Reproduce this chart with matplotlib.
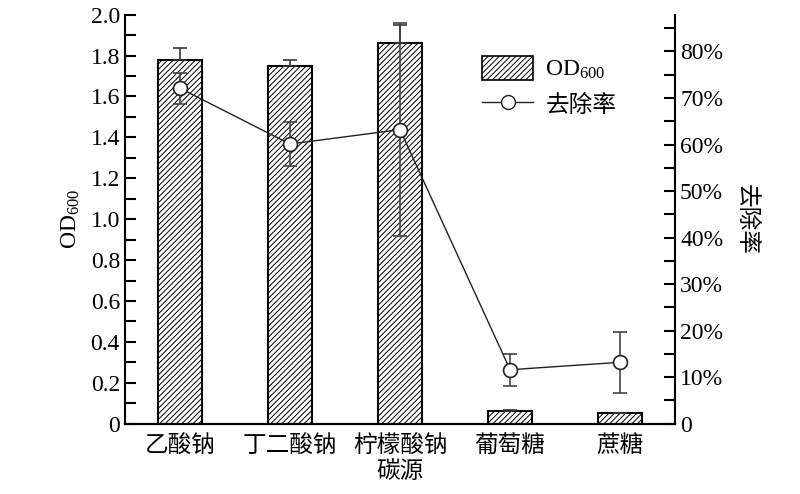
import matplotlib
matplotlib.use('Agg')
import matplotlib.pyplot as plt
from matplotlib.ticker import MultipleLocator, FuncFormatter
from matplotlib.lines import Line2D
from matplotlib.patches import Patch

plt.rcParams['font.family'] = ['Liberation Serif', 'Noto Sans CJK SC']
plt.rcParams['mathtext.fontset'] = 'custom'
plt.rcParams['mathtext.rm'] = 'Liberation Serif'
plt.rcParams['mathtext.it'] = 'Liberation Serif:italic'
plt.rcParams['mathtext.default'] = 'rm'
plt.rcParams['hatch.linewidth'] = 0.7

# carbon sources
sources = ['乙酸钠', '丁二酸钠', '柠檬酸钠', '葡萄糖', '蔗糖']
od600 = [1.777, 1.748, 1.860, 0.062, 0.052]
od600_err = [0.06, 0.03, 0.09, 0.006, 0.0]
removal = [72.1, 60.1, 63.2, 11.6, 13.2]
removal_err = [3.3, 4.75, 22.9, 3.4, 6.6]

fig = plt.figure(figsize=(8, 4.94), dpi=100)
ax = fig.add_axes([0.156, 0.1423, 0.688, 0.828])
ax2 = ax.twinx()

x = list(range(len(sources)))
ax.bar(x, od600, width=0.4, color='white', edgecolor='black', linewidth=1.5,
       hatch='//////', zorder=2)
# only the upper half of the OD error shows above each bar
ax.errorbar(x, od600, yerr=[[0] * len(od600), od600_err], fmt='none',
            ecolor='#333333', elinewidth=1.2, capsize=5, capthick=1.2, zorder=3)

ax2.errorbar(x, removal, yerr=removal_err, fmt='none', ecolor='#444444',
             elinewidth=1.2, capsize=5, capthick=1.2, zorder=3)
ax2.plot(x, removal, color='#222222', linewidth=1.0, marker='o',
         markersize=10, markerfacecolor='white', markeredgecolor='#222222',
         markeredgewidth=1.2, zorder=4)

ax.set_xlim(-0.5, 4.5)
ax.set_ylim(0, 2.0)
ax2.set_ylim(0, 87.9)

ax.yaxis.set_major_locator(MultipleLocator(0.2))
ax.yaxis.set_minor_locator(MultipleLocator(0.1))
ax.yaxis.set_major_formatter(FuncFormatter(lambda v, p: '0' if abs(v) < 1e-9 else '%.1f' % v))
ax2.yaxis.set_major_locator(MultipleLocator(10))
ax2.yaxis.set_minor_locator(MultipleLocator(5))
ax2.yaxis.set_major_formatter(FuncFormatter(lambda v, p: '0' if abs(v) < 1e-9 else '%d%%' % round(v)))

ax.set_xticks(x)
ax.set_xticklabels(sources, fontsize=17)
ax.tick_params(axis='x', length=0, pad=8)
ax.tick_params(axis='y', which='both', direction='in', length=8, width=1.5,
               labelsize=17, right=False)
ax2.tick_params(axis='y', which='both', direction='in', length=8, width=1.5,
                labelsize=17, left=False)

for a in (ax, ax2):
    a.spines['top'].set_visible(False)
    for s in ('left', 'right', 'bottom'):
        a.spines[s].set_linewidth(1.5)
ax.spines['right'].set_visible(False)
ax2.spines['left'].set_visible(False)

ax.set_xlabel('碳源', fontsize=17, labelpad=3)
ax.set_ylabel('OD$_{600}$', fontsize=17, labelpad=6)
ax2.set_ylabel('去除率', fontsize=17, rotation=-90, labelpad=24)

handles = [
    Patch(facecolor='white', edgecolor='black', hatch='//////', linewidth=1.2),
    Line2D([], [], color='#222222', linewidth=1.0, marker='o', markersize=10,
           markerfacecolor='white', markeredgecolor='#222222'),
]
ax2.legend(handles, ['OD$_{600}$', '去除率'], loc='upper left',
           bbox_to_anchor=(0.631, 0.922), frameon=False, fontsize=17,
           handlelength=2.2, handleheight=1.2, handletextpad=0.5,
           labelspacing=0.45, borderaxespad=0)

fig.savefig('out.png', dpi=100)
